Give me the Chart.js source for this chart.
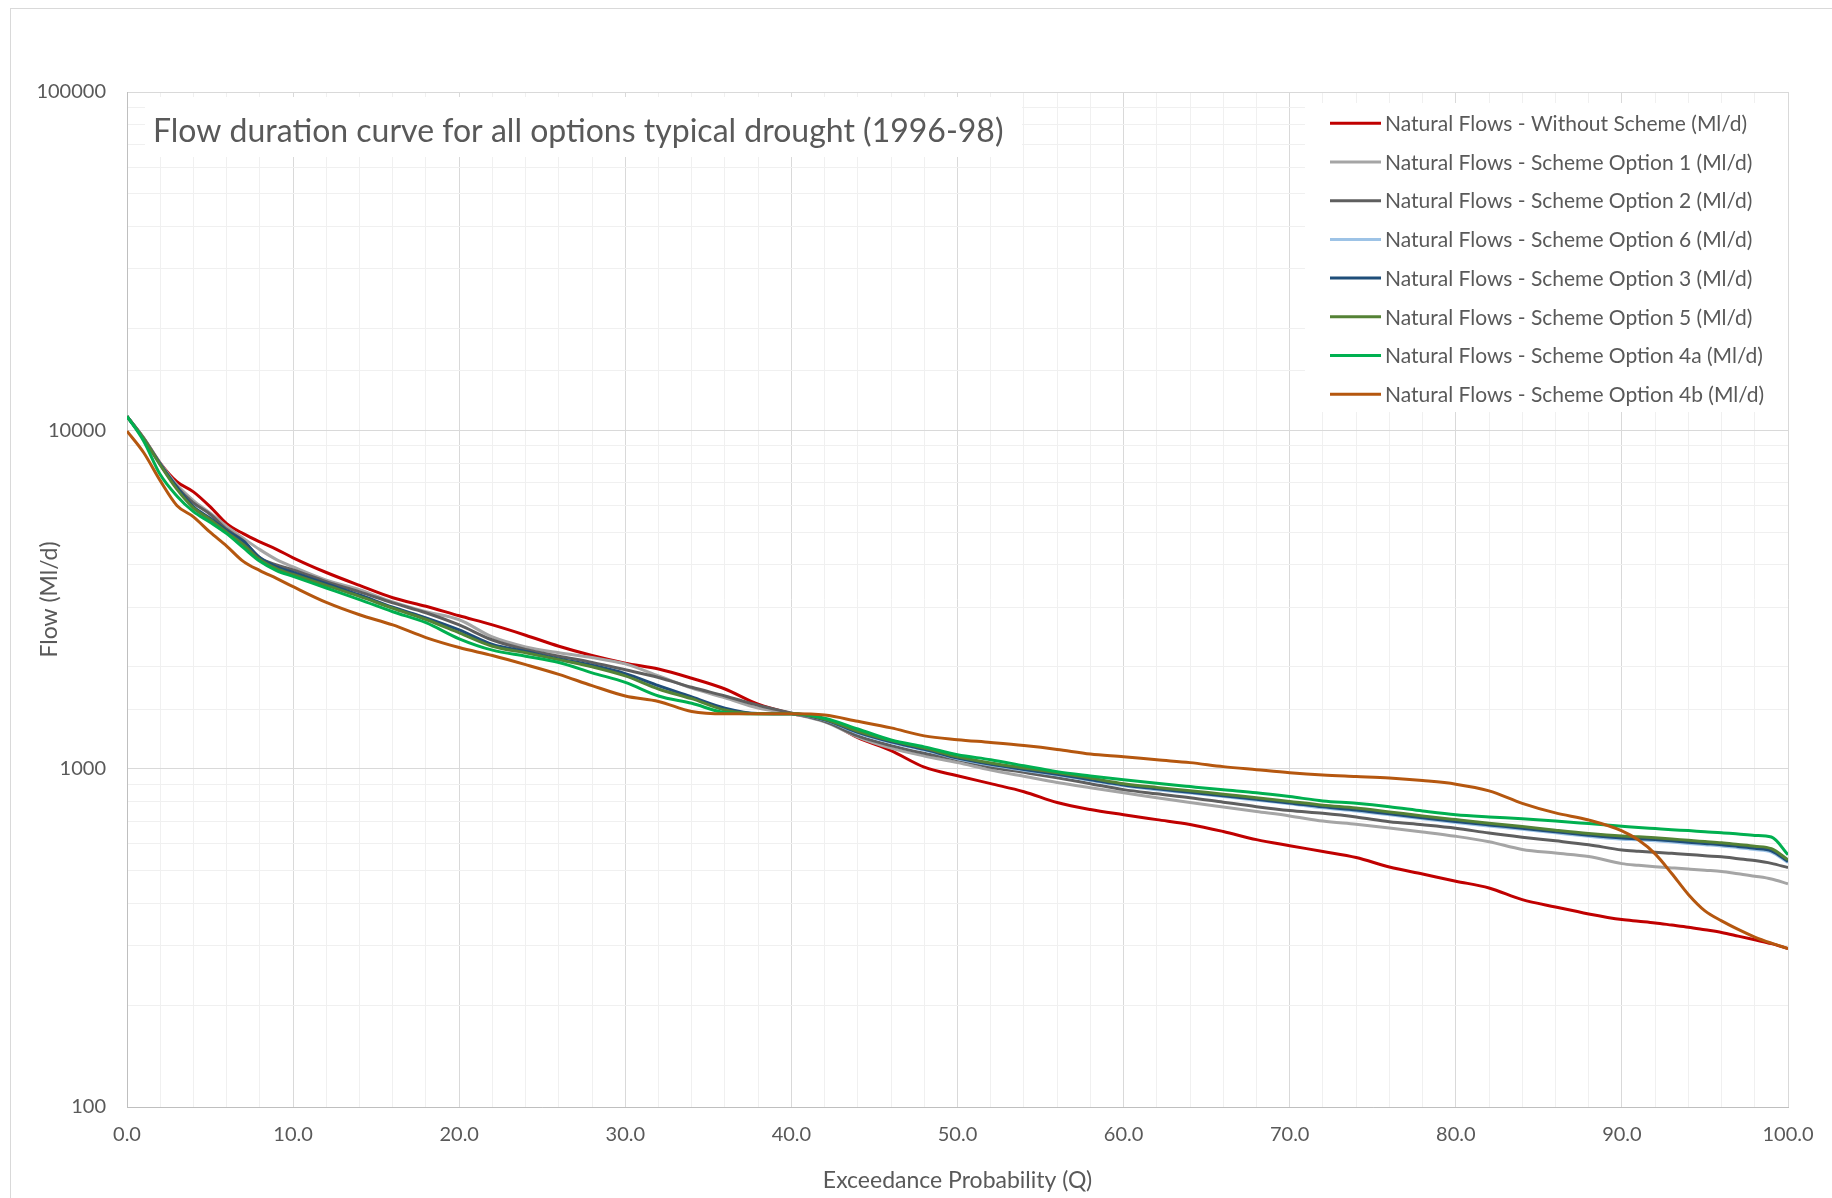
<!DOCTYPE html>
<html><head><meta charset="utf-8">
<script src="https://cdn.jsdelivr.net/npm/chart.js@4.4.0/dist/chart.umd.min.js"></script>
<style>html,body{margin:0;padding:0;background:#fff;}#wrap{width:1832px;height:1198px;}</style>
</head><body><div id="wrap"><canvas id="c" width="1832" height="1198"></canvas></div>
<script>
const chartTitle = 'Flow duration curve for all options typical drought (1996-98)';
const xAxisTitle = 'Exceedance Probability (Q)';
const yAxisTitle = 'Flow (Ml/d)';
const exceedance = [0,1,2,3,4,5,6,7,8,9,10,
  12,14,16,18,20,22,24,26,28,30,
  32,34,36,38,40,42,44,46,48,50,
  52,54,56,58,60,62,64,66,68,70,
  72,74,76,78,80,82,84,86,88,90,
  91,92,93,94,95,96,97,98,99,100];
const seriesNames = [
  'Natural Flows - Without Scheme (Ml/d)',
  'Natural Flows - Scheme Option 1 (Ml/d)',
  'Natural Flows - Scheme Option 2 (Ml/d)',
  'Natural Flows - Scheme Option 6 (Ml/d)',
  'Natural Flows - Scheme Option 3 (Ml/d)',
  'Natural Flows - Scheme Option 5 (Ml/d)',
  'Natural Flows - Scheme Option 4a (Ml/d)',
  'Natural Flows - Scheme Option 4b (Ml/d)'
];
const withoutScheme = [11000,9500,8000,7050,6580,5950,5300,4950,4680,4450,4200,
  3800,3480,3200,3020,2830,2660,2480,2300,2160,2050,
  1970,1850,1720,1550,1455,1390,1235,1130,1010,953,
  903,855,794,757,731,707,684,652,617,592,
  569,546,512,488,465,444,410,390,372,358,
  354,350,345,340,334,328,320,312,304,294];
const option1 = [11000,9500,8000,6900,6200,5700,5200,4800,4440,4150,3950,
  3610,3380,3110,2910,2755,2450,2290,2200,2130,2040,
  1880,1730,1620,1510,1455,1375,1240,1150,1090,1042,
  990,950,910,878,849,820,794,770,747,725,
  700,685,668,650,631,608,577,563,550,524,
  518,513,509,505,501,497,489,481,472,457];
const option2 = [11000,9450,7950,6800,6100,5650,5100,4720,4200,4000,3870,
  3570,3330,3090,2890,2660,2400,2250,2150,2060,1960,
  1860,1740,1640,1540,1460,1380,1250,1170,1110,1063,
  1010,975,940,903,867,843,821,796,772,752,
  738,720,697,683,667,645,627,612,596,575,
  570,566,562,558,553,549,542,535,525,510];
const option6 = [11000,9450,7900,6750,5900,5450,5000,4650,4180,3930,3780,
  3500,3240,2990,2780,2550,2320,2210,2100,2010,1900,
  1750,1620,1500,1455,1452,1392,1275,1195,1135,1070,
  1025,990,957,923,890,867,847,827,807,787,
  766,750,731,711,693,677,662,646,631,619,
  616,612,607,601,596,591,584,577,567,528];
const option3 = [11000,9450,7950,6800,5950,5500,5050,4700,4200,3950,3800,
  3520,3260,3000,2790,2570,2330,2220,2110,2020,1910,
  1760,1630,1510,1455,1452,1395,1280,1200,1140,1075,
  1030,995,962,928,895,872,852,832,812,792,
  771,755,736,716,698,682,667,651,636,624,
  621,617,612,606,601,596,589,582,572,532];
const option5 = [11000,9450,7900,6700,5900,5450,5000,4600,4150,3900,3750,
  3480,3230,2980,2760,2520,2300,2200,2100,2000,1880,
  1720,1610,1490,1452,1452,1400,1290,1210,1150,1085,
  1040,1005,973,938,903,880,861,840,821,800,
  780,765,745,725,707,690,675,658,643,632,
  629,625,620,614,609,604,597,590,580,538];
const option4a = [11000,9300,7400,6400,5750,5350,4950,4500,4100,3850,3700,
  3420,3160,2910,2700,2420,2240,2150,2060,1920,1800,
  1640,1560,1465,1452,1452,1410,1310,1215,1160,1100,
  1063,1020,980,952,927,905,885,866,849,827,
  803,790,772,750,731,720,711,700,688,676,
  670,665,660,656,651,647,641,635,628,557];
const option4b = [9950,8600,7100,6000,5550,5000,4550,4100,3850,3650,3450,
  3100,2850,2660,2440,2280,2160,2030,1900,1760,1640,
  1580,1475,1452,1452,1452,1440,1380,1320,1250,1218,
  1195,1170,1140,1105,1085,1062,1042,1014,993,973,
  958,948,938,922,900,860,790,740,705,655,
  615,560,490,425,380,355,335,318,305,294];
const seriesValues = [withoutScheme, option1, option2, option6, option3, option5, option4a, option4b];
const seriesColors = ['#C00000','#A5A5A5','#5F5F5F','#9DC3E6','#1F4E79','#548235','#00B050','#B5570F'];
const yTickValues = [100, 1000, 10000, 100000];

const FONT = "Lato, 'Open Sans', sans-serif";
const TXT = '#595959';
Chart.defaults.font.family = FONT;
Chart.defaults.color = TXT;

const datasets = seriesValues.map((vals, i) => ({
  label: seriesNames[i],
  data: exceedance.map((x, j) => ({x: x, y: vals[j]})),
  borderColor: seriesColors[i],
  backgroundColor: seriesColors[i],
  borderWidth: 3,
  pointRadius: 0,
  cubicInterpolationMode: 'monotone',
  fill: false,
  order: seriesValues.length - i
}));

const framePlugin = {
  id: 'frame',
  beforeDraw(chart) {
    const ctx = chart.ctx;
    ctx.save();
    ctx.fillStyle = '#fff';
    ctx.fillRect(0, 0, chart.width, chart.height);
    ctx.strokeStyle = '#d9d9d9';
    ctx.lineWidth = 1;
    ctx.strokeRect(10.5, 8.5, chart.width + 20, chart.height + 20);
    ctx.restore();
  }
};

const overlayPlugin = {
  id: 'overlay',
  beforeDatasetsDraw(chart) {
    const ctx = chart.ctx;
    const a = chart.chartArea;
    ctx.save();
    // title box
    ctx.fillStyle = '#fff';
    ctx.fillRect(a.left + 18, a.top + 5, 877, 60);
    ctx.fillStyle = TXT;
    ctx.font = '32px ' + FONT;
    ctx.textBaseline = 'middle';
    ctx.textAlign = 'left';
    ctx.fillText(chartTitle, a.left + 26, a.top + 40);
    // legend box
    const lx = 1305, ly = 103;
    ctx.fillStyle = '#fff';
    ctx.fillRect(lx, ly, a.right - lx, 309);
    ctx.font = '21px ' + FONT;
    chart.data.datasets.forEach((ds, i) => {
      const y = 123.3 + i * 38.7;
      ctx.strokeStyle = ds.borderColor;
      ctx.lineWidth = 3;
      ctx.beginPath();
      ctx.moveTo(1330, y);
      ctx.lineTo(1381, y);
      ctx.stroke();
      ctx.fillStyle = TXT;
      ctx.fillText(ds.label, 1385, y + 1);
    });
    ctx.restore();
  }
};

new Chart(document.getElementById('c'), {
  type: 'line',
  data: { datasets: datasets },
  options: {
    responsive: false,
    animation: false,
    devicePixelRatio: 1,
    layout: { padding: { top: 92, right: 44, left: 0, bottom: 0 } },
    plugins: { legend: { display: false }, title: { display: false }, tooltip: { enabled: false } },
    scales: {
      x: {
        type: 'linear', min: 0, max: 100,
        afterFit(s) { s.height = 91; },
        ticks: {
          stepSize: 2, autoSkip: false, maxRotation: 0, padding: 16,
          font: { size: 20 }, color: TXT,
          callback: (v) => (v % 10 === 0 ? v.toFixed(1) : '')
        },
        grid: {
          drawTicks: false,
          color: (c) => (c.tick && c.tick.value % 10 === 0 ? '#d9d9d9' : '#f0f0f0'),
          lineWidth: 1
        },
        border: { color: '#bfbfbf', width: 1 },
        title: { display: true, text: xAxisTitle, font: { size: 23 }, color: TXT, padding: { top: 0, bottom: 4 } }
      },
      y: {
        type: 'logarithmic', min: 100, max: 100000,
        afterFit(s) { s.width = 127; },
        ticks: {
          autoSkip: false, padding: 21, font: { size: 20 }, color: TXT,
          callback: (v) => (yTickValues.includes(Number(v)) ? String(v) : '')
        },
        grid: {
          drawTicks: false,
          color: (c) => (c.tick && yTickValues.includes(Number(c.tick.value)) ? '#d9d9d9' : '#f0f0f0'),
          lineWidth: 1
        },
        border: { color: '#bfbfbf', width: 1 },
        title: { display: true, text: yAxisTitle, font: { size: 23 }, color: TXT, padding: { top: 36, bottom: 0 } }
      }
    }
  },
  plugins: [framePlugin, overlayPlugin]
});
</script></body></html>
